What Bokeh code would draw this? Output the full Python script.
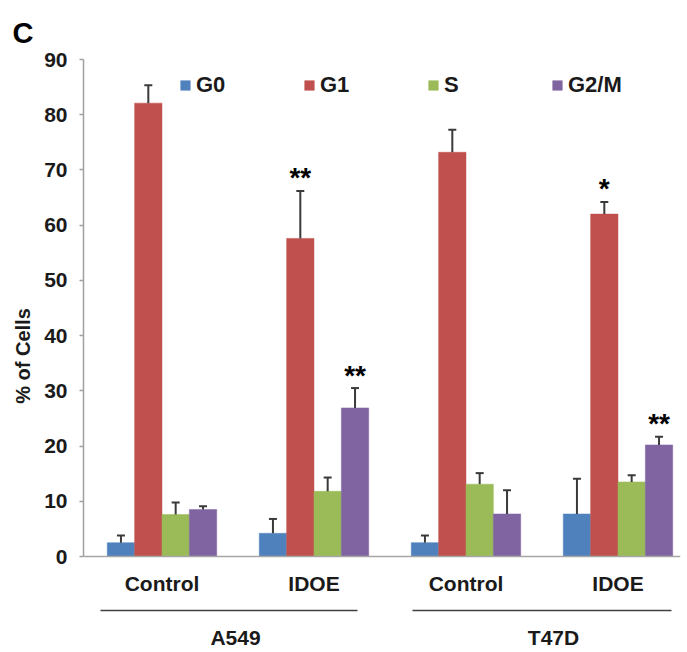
from bokeh.plotting import figure
from bokeh.models import (ColumnDataSource, Whisker, TeeHead, Legend, LegendItem,
                          FixedTicker, Range1d, Span)
from bokeh.embed import file_html
from bokeh.resources import INLINE
from bokeh.core.properties import value

# ---------------- data ----------------
groups = ["Control", "IDOE", "Control", "IDOE"]
cell_lines = ["A549", "T47D"]
phases = ["G0", "G1", "S", "G2/M"]
g0 = [2.5, 4.2, 2.5, 7.7]
g0_err = [1.3, 2.6, 1.3, 6.4]
g1 = [82.1, 57.6, 73.2, 62.0]
g1_err = [3.25, 8.6, 4.1, 2.2]
s_ph = [7.6, 11.8, 13.1, 13.5]
s_err = [2.2, 2.5, 2.0, 1.2]
g2m = [8.5, 26.9, 7.7, 20.2]
g2m_err = [0.6, 3.6, 4.3, 1.5]
sig_g0 = ["", "", "", ""]
sig_g1 = ["", "**", "", "*"]
sig_s = ["", "", "", ""]
sig_g2m = ["", "**", "", "**"]
y_ticks = list(range(0, 91, 10))

colors = ["#4F81BD", "#C0504D", "#9BBB59", "#8064A2"]
FONT = "Liberation Sans"
TXT = "#1a1a1a"

values = [g0, g1, s_ph, g2m]
errors = [g0_err, g1_err, s_err, g2m_err]
sigs = [sig_g0, sig_g1, sig_s, sig_g2m]

# ---------------- layout ----------------
FW, FH = 597, 593
PX_PER_X = 152.0
PX_PER_Y = 497.0 / 90.0
X0 = -0.0164
X1 = X0 + FW / PX_PER_X
Y1 = 90.0
Y0 = Y1 - FH / PX_PER_Y
BAR_W = 0.18

p = figure(frame_width=FW, frame_height=FH, output_backend="svg", toolbar_location=None,
           x_range=Range1d(X0, X1), y_range=Range1d(Y0, Y1), x_axis_location=None,
           min_border_left=83, min_border_right=7, min_border_top=59, min_border_bottom=0,
           background_fill_color="white", border_fill_color="white")
p.outline_line_color = None
p.xgrid.visible = False
p.ygrid.visible = False

# panel letter as title
p.title.text = "C"
p.title.align = "left"
p.title.offset = -71
p.title.text_font = FONT
p.title.text_font_style = "bold"
p.title.text_font_size = "29px"
p.title.text_color = "black"
p.title.standoff = 22

legend_items = []
for j, ph in enumerate(phases):
    xs = [i + 0.5 + (j - 1.5) * BAR_W for i in range(len(groups))]
    tops = values[j]
    ups = [t + e for t, e in zip(tops, errors[j])]
    src = ColumnDataSource(dict(x=xs, top=tops, upper=ups, sig=sigs[j]))
    r = p.vbar(x="x", top="top", width=BAR_W, bottom=0, source=src,
               fill_color=colors[j], line_color=colors[j], line_width=0.5)
    legend_items.append(LegendItem(label=ph, renderers=[r]))
    w = Whisker(base="x", lower="top", upper="upper", source=src, dimension="height",
                line_color="#3a3a3a", line_width=2,
                upper_head=TeeHead(size=8, line_color="#3a3a3a", line_width=2),
                lower_head=None, level="overlay")
    p.add_layout(w)
    p.text(x="x", y="upper", text="sig", source=src, text_align="center",
           text_baseline="middle", y_offset=-13,
           text_font=value(FONT), text_font_style="bold", text_font_size="28px",
           text_color="black")

legend = Legend(items=legend_items, orientation="horizontal", location=(96, 554),
                padding=0, margin=0, spacing=0, glyph_width=12, glyph_height=12,
                label_standoff=5, label_width=107, label_height=12,
                label_text_font=FONT, label_text_font_style="bold",
                label_text_font_size="22px", label_text_color=TXT,
                border_line_color=None, background_fill_alpha=0)
p.add_layout(legend, "center")

# baseline (x axis line)
p.add_layout(Span(location=0, dimension="width", line_color="#a6a6a6", line_width=1.5))

# y axis
ya = p.yaxis[0]
ya.bounds = (0, 90)
ya.ticker = FixedTicker(ticks=y_ticks)
ya.axis_line_color = "#a0a0a0"
ya.axis_line_width = 1.5
ya.major_tick_line_color = "#a0a0a0"
ya.major_tick_line_width = 1.5
ya.major_tick_in = 0
ya.major_tick_out = 4
ya.minor_tick_line_color = None
ya.major_label_standoff = 12
ya.major_label_text_font = FONT
ya.major_label_text_font_style = "bold"
ya.major_label_text_font_size = "21px"
ya.major_label_text_color = TXT
ya.axis_label = "% of Cells"
ya.axis_label_text_font = FONT
ya.axis_label_text_font_style = "bold"
ya.axis_label_text_font_size = "20px"
ya.axis_label_text_color = TXT
ya.axis_label_standoff = 7

# group labels under the baseline
centers = [i + 0.5 for i in range(len(groups))]
gsrc = ColumnDataSource(dict(x=centers, y=[0] * len(groups), t=groups))
p.text(x="x", y="y", text="t", source=gsrc, text_align="center", text_baseline="middle",
       y_offset=27, text_font=value(FONT), text_font_style="bold", text_font_size="21px",
       text_color=TXT)

# cell-line brackets and labels
def px_x(px):
    return X0 + (px - 83) / PX_PER_X

br_x0 = [px_x(100), px_x(412)]
br_x1 = [px_x(357), px_x(671)]
lab_x = [px_x(235), px_x(553)]
br_y = [-(610 - 556) / PX_PER_Y] * 2
bsrc = ColumnDataSource(dict(x0=br_x0, x1=br_x1, y=br_y, lx=lab_x, t=cell_lines))
p.segment(x0="x0", x1="x1", y0="y", y1="y", source=bsrc, line_color="#404040", line_width=1.5)
p.text(x="lx", y="y", text="t", source=bsrc, text_align="center", text_baseline="middle",
       y_offset=637 - 610, text_font=value(FONT), text_font_style="bold", text_font_size="21px",
       text_color=TXT)

open("out.html", "w").write(file_html(p, INLINE))
